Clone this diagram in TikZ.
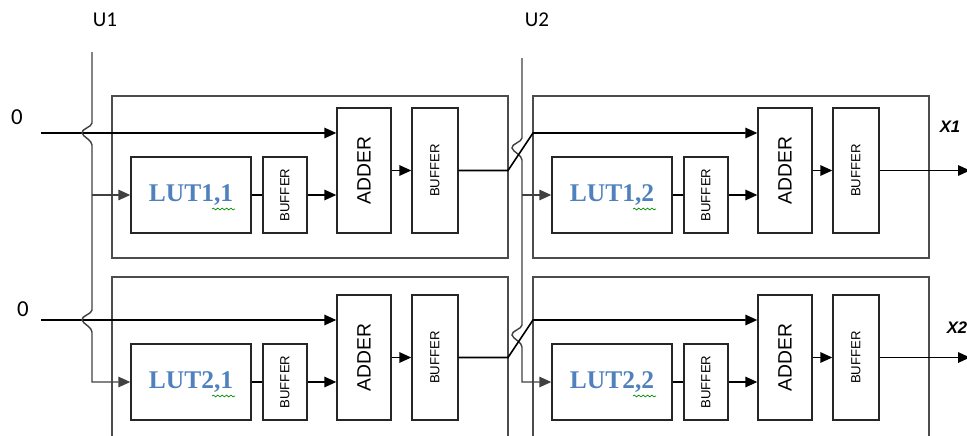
\documentclass[tikz,border=0pt]{standalone}
\usepackage{graphicx}
\usepackage{fontspec}
\setmainfont{Carlito}
\setsansfont{Liberation Sans}
\newfontfamily\lutfont{Liberation Serif}
\usetikzlibrary{arrows.meta,calc,decorations.pathmorphing}
\definecolor{lutblue}{RGB}{79,129,189}
\tikzset{
  blk/.style={draw=black!85,rectangle,line width=0.8pt,inner sep=0pt},
  lut/.style={blk,minimum width=2.4cm,minimum height=1.52cm,text=lutblue,
    font=\lutfont\bfseries\fontsize{14.5}{16}\selectfont},
  sbuf/.style={blk,minimum width=0.88cm,minimum height=1.52cm,font=\sffamily\fontsize{7.5}{9}\selectfont},
  adder/.style={blk,minimum width=1.08cm,minimum height=2.5cm,font=\sffamily\fontsize{11}{12}\selectfont},
  obuf/.style={blk,minimum width=0.92cm,minimum height=2.5cm,font=\sffamily\fontsize{7.5}{9}\selectfont},
  frame/.style={draw=black!70,line width=0.9pt},
  wire/.style={line width=0.9pt},
  bus/.style={draw=black!75,line width=0.8pt},
  jumpover/.style={insert path={.. controls +(0,4) and +(-1,-4) .. ++(-10,10) .. controls +(1,4) and +(0,-5) .. ++(10,12)}},
  squiggle/.style={draw=green!55!black,line width=0.4pt,decorate,
    decoration={snake,amplitude=0.5pt,segment length=2.5pt}}
}

\begin{document}
\begin{tikzpicture}[x=0.02cm,y=-0.02cm,>={Triangle[length=2.4mm,width=2.1mm]}]
  \useasboundingbox (0,0) rectangle (967,436);
  \clip (0,0) rectangle (967,436);

  % stage frames
  \foreach \yt/\yb in {96/258,277/460}
    \foreach \c in {0,1}
      \draw[frame] (112+421*\c,\yt) rectangle (508+421*\c,\yb);

  % LUT -> buffer -> adder -> buffer, one per stage
  \foreach \r in {1,2}
    \foreach \c in {1,2}{
      \pgfmathsetmacro\dx{421*(\c-1)}
      \pgfmathsetmacro\dy{187*(\r-1)}
      \node[lut] (lut\r\c) at (191+\dx,195+\dy) {LUT\r,\c};
      \node[sbuf] (sbuf\r\c) at (285+\dx,195+\dy) {\rotatebox{90}{BUFFER}};
      \node[adder] (add\r\c) at (364+\dx,170.5+\dy) {\rotatebox{90}{ADDER}};
      \node[obuf] (obuf\r\c) at (435+\dx,170.5+\dy) {\rotatebox{90}{BUFFER}};
      \draw[wire] (lut\r\c) -- (sbuf\r\c);
      \draw[wire,->] (sbuf\r\c.east) -- (add\r\c.west |- sbuf\r\c.east);
      \draw[wire,->] (add\r\c.east) -- (obuf\r\c.west);
      \draw[squiggle] ($(lut\r\c)+(21,14)$) -- ++(23,0);
    }

  % inputs
  \node (zero1) at (17,117) {\fontsize{13}{14}\selectfont 0};
  \node (zero2) at (23,309) {\fontsize{13}{14}\selectfont 0};
  \coordinate (in1) at (41,133);
  \coordinate (in2) at (41,320);
  \coordinate (e1) at (508,0);
  \coordinate (e2) at (533,0);
  \coordinate (out) at (970,0);
  \draw[wire,->] (in1) -- (add11.west |- in1);
  \draw[wire,->] (in2) -- (add21.west |- in2);

  % select lines
  \node (u1) at (105,20) {\fontsize{12}{13}\selectfont U1};
  \node (u2) at (537,20) {\fontsize{12}{13}\selectfont U2};
  \coordinate (u1top) at (92,52);
  \coordinate (u2top) at (522,58);
  \draw[bus,->] (u1top) -- ($(u1top|-in1)+(0,-10)$) [jumpover]
    -- ($(u1top|-in2)+(0,-10)$) [jumpover] |- (lut21.west);
  \draw[bus,->] (u1top|-lut11) -- (lut11.west);
  \draw[bus,->] (u2top) -- ($(u2top|-in1)+(0,5)$) [jumpover]
    -- ($(u2top|-in2)+(0,5)$) [jumpover] |- (lut22.west);
  \draw[bus,->] (u2top|-lut12) -- (lut12.west);

  % stage 1 -> stage 2
  \draw[wire,->] (obuf11.east) -- (obuf11.east -| e1) -- (e2 |- in1) -- (add12.west |- in1);
  \draw[wire,->] (obuf21.east) -- (obuf21.east -| e1) -- (e2 |- in2) -- (add22.west |- in2);

  % outputs
  \draw[wire,->] (obuf12.east) -- (obuf12.east -| out);
  \draw[wire,->] (obuf22.east) -- (obuf22.east -| out);
  \node[font=\sffamily\bfseries\itshape\fontsize{9.5}{10}\selectfont] (x1) at (950,127) {X1};
  \node[font=\sffamily\bfseries\itshape\fontsize{9.5}{10}\selectfont] (x2) at (957,328) {X2};
\end{tikzpicture}
\end{document}
